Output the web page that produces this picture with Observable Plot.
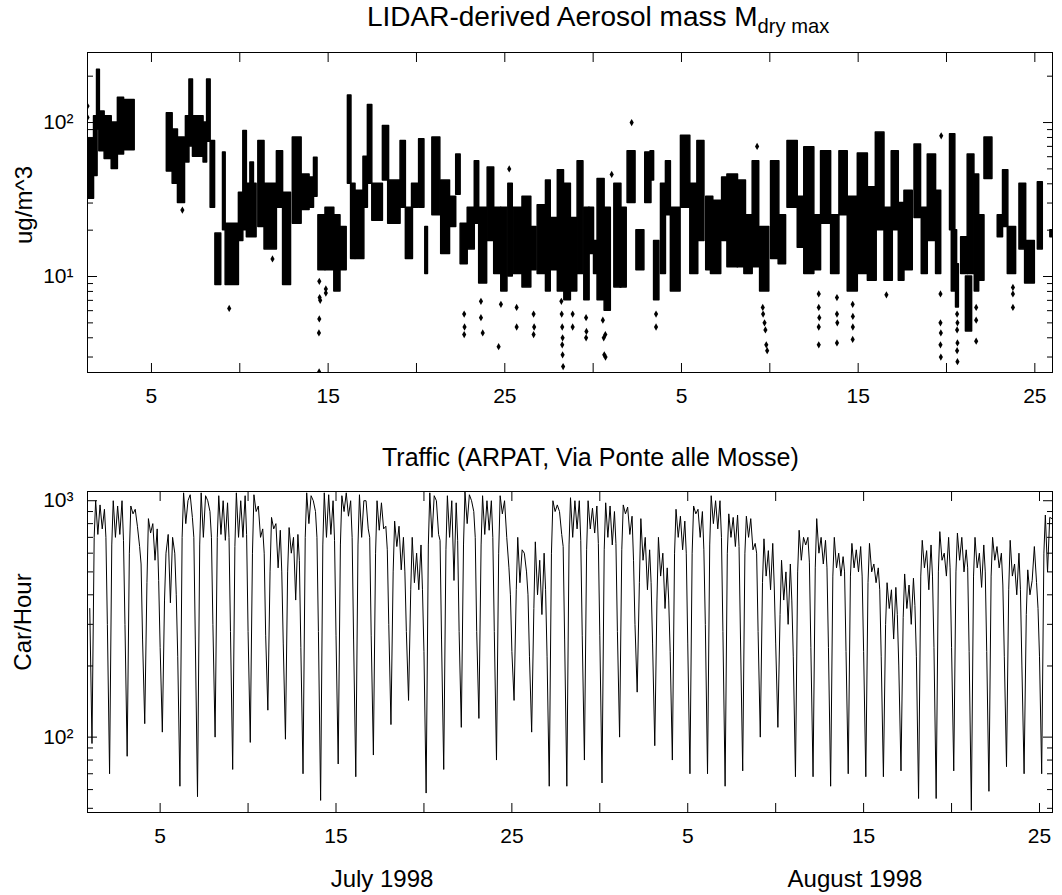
<!DOCTYPE html>
<html><head><meta charset="utf-8">
<script src="https://cdn.jsdelivr.net/npm/d3@7"></script>
<script src="https://cdn.jsdelivr.net/npm/@observablehq/plot@0.6"></script>
<style>
body{margin:0;background:#fff;font-family:"Liberation Sans",Arial,sans-serif;}
#wrap{position:relative;width:1062px;height:895px;overflow:hidden;background:#fff;}
#wrap svg{position:absolute;left:0;}
.t{position:absolute;white-space:nowrap;color:#000;line-height:1;}
.c{transform:translate(-50%,-50%);}
.r{transform:translate(-50%,-50%) rotate(-90deg);}
</style></head><body><div id="wrap"></div>
<script>
// ---------- Top panel: LIDAR-derived aerosol mass (ug/m^3), day of July (32 = Aug 1) ----------
// dense streaks of measurements: [dayStart, dayEnd, low, high]
const aerosolStreaks = [
[1.38,1.75,32,78],[1.75,1.95,45,110],[1.92,2.08,90,220],[2.05,2.35,65,118],[2.35,2.75,58,110],
[2.75,3.1,50,100],[3.1,3.45,62,145],[3.45,4.05,66,140],
[5.87,6.2,48,115],[6.2,6.5,40,90],[6.5,6.9,30,80],[6.95,7.15,55,110],[7.15,7.35,70,190],
[7.35,7.95,60,110],[7.95,8.15,55,100],[8.15,8.35,75,190],[8.35,8.6,28,76],[8.62,8.95,8.8,19],
[9.05,9.2,20,64],[9.2,9.95,8.8,22],[9.95,10.2,17,35],[10.2,10.4,20,88],[10.4,10.95,18,40],
[10.6,10.8,40,55],[11.05,11.4,21,76],[11.4,12.1,15,40],[12.1,12.45,28,65],[12.45,12.9,8.8,35],
[13.0,13.5,22,80],[13.5,13.95,27,46],[13.9,14.2,28,44],[14.2,14.4,33,59],[14.45,14.85,11,25],
[14.85,15.35,11,28],[15.35,15.7,8,25],[15.7,16.05,11,21],[16.12,16.32,40,150],[16.3,16.55,13,40],
[16.55,17.05,13,36],[17.0,17.25,28,60],[17.25,17.5,40,130],[17.5,18.1,23,40],[18.1,18.45,42,95],
[18.4,19.1,22,42],[19.1,19.4,28,76],[19.4,19.8,13,28],[19.75,20.1,28,40],[20.15,20.45,28,78],
[20.5,20.65,10.4,21],[20.9,21.35,25,80],[21.4,21.9,14,42],[21.9,22.25,21,33],[22.25,22.5,34,62],
[22.5,22.9,12,22],[22.9,23.3,15,28],[23.3,23.55,22,56],[23.55,24.0,9,28],[24.03,24.4,17,51],
[24.4,24.8,10.4,28],[24.8,25.15,8,28],[25.2,25.45,10,40],[25.5,26.0,10.4,28],[26.0,26.5,8.5,33],
[26.5,26.8,11,21],[26.86,27.33,10.4,29],[27.33,27.6,8,42],[27.6,28.0,11,24],[28.0,28.35,8,49],
[28.37,28.74,7,40],[28.74,29.1,8,24],[29.12,29.45,10.4,56],[29.5,29.8,7,28],[29.78,30.05,14,28],
[30.05,30.3,10.4,17],[30.25,30.65,7,43],[30.65,31.0,6,28],[31.2,31.6,8.5,40],[31.55,31.9,8.5,28],
[31.95,32.4,30,65],[32.45,32.9,11,20],[32.95,33.3,30,64],[33.25,33.45,42,65],[33.45,33.75,7,17],
[33.84,34.12,10.4,40],[34.12,34.4,25,56],[34.4,34.95,8,28],[34.97,35.5,28,82],[35.5,35.95,10.4,40],
[35.9,36.3,17,76],[36.4,36.8,11,33],[36.67,37.25,10.4,31],[37.3,37.6,17,44],[37.6,38.2,11.5,46],
[38.18,38.65,11.5,42],[38.56,39.03,10.4,25],[39.03,39.4,11.5,56],[39.45,39.97,8,21],[40.07,40.54,13,56],
[40.5,40.92,12,25],[41.0,41.58,28,76],[41.58,42.05,15.4,33],[41.95,42.52,10.4,69],[42.52,42.9,11,25],
[42.9,43.47,22,65],[43.47,43.94,10.4,25],[43.94,44.41,25,65],[44.41,44.98,8,33],[44.98,45.55,10.4,63],
[45.55,46.05,9.4,38],[46.0,46.49,20,86],[46.49,46.96,9.4,28],[46.9,47.3,20,65],[47.3,47.62,9.4,30],
[47.62,48.09,11,36],[48.19,48.56,24,72],[48.6,48.94,10.4,28],[48.94,49.41,17,62],[49.41,49.7,10.4,36],
[50.2,50.5,20,84],[50.3,50.6,8,20],[50.54,50.7,6.3,12],[50.83,51.21,10.4,18],[51.1,51.45,4.4,10],
[51.2,51.58,10.4,62],[51.6,51.85,8,46],[51.87,52.15,9.4,25],[52.15,52.6,43,80],[52.9,53.2,18,25],
[53.2,53.5,21,49],[53.47,53.94,10.4,21],[54.13,54.51,15,40],[54.45,55.0,9,17],[55.17,55.45,15,41],
[55.88,56.1,18,20]
];
// isolated measurements: [day, value]
const aerosolPoints = [
[1.38,128],[1.38,108],[6.75,27],[9.4,6.2],[11.85,13],
[14.5,9.3],[14.52,7.3],[14.55,7.0],[14.5,5.3],[14.48,4.3],[14.87,8.3],[14.87,7.8],[14.49,2.4],
[22.7,5.7],[22.72,4.7],[22.7,4.2],[23.65,6.9],[23.65,5.4],[23.75,4.3],[24.65,3.5],[24.78,6.6],
[25.25,50],[25.67,6.3],[25.67,4.7],[26.63,5.7],[26.66,4.7],[26.63,4.2],
[28.2,6.9],[28.22,5.7],[28.25,4.7],[28.27,4.0],[28.25,3.6],[28.27,3.1],[28.3,2.6],
[28.84,5.7],[28.84,4.7],[29.6,5.4],[29.62,4.4],[29.6,4.0],[30.55,5.2],[30.6,4.0],[30.63,3.1],
[30.69,4.2],[30.7,3.0],[31.05,46],[32.18,100],[33.56,5.7],[33.56,4.7],[39.28,70],
[39.6,6.3],[39.62,5.7],[39.7,5.0],[39.75,4.5],[39.8,3.6],[39.85,3.3],
[42.77,7.7],[42.77,6.3],[42.8,5.4],[42.77,4.7],[42.77,3.6],[43.8,7.3],[43.8,5.7],[43.82,5.0],[43.8,3.7],
[44.69,6.6],[44.7,5.5],[44.7,4.7],[44.69,3.9],[46.6,7.6],
[49.66,7.7],[49.66,5.0],[49.68,4.3],[49.66,3.6],[49.68,3.0],[49.7,82],
[50.6,5.7],[50.62,5.0],[50.6,4.5],[50.62,3.7],[50.6,3.3],[50.62,2.8],
[51.68,6.3],[51.68,5.2],[51.68,3.8],[53.76,8.5],[53.76,7.7],[53.76,6.3]
];

// ---------- Bottom panel: traffic (cars/hour) ----------
const trafficHours = [0,3,6,8,11,14,17,20,22];
const trafficDays = d3.range(1, 56);
const trafficValues = [
[350,94,700,1000,720,960,760,920,700],
[300,70,650,1000,700,950,720,1000,680],
[300,83,600,950,880,920,780,640,540],
[260,114,450,840,730,800,560,760,460],
[240,105,380,600,720,370,700,600,400],
[220,62,700,1080,800,1000,1060,850,700],
[260,56,650,1080,700,1050,1000,900,700],
[300,100,700,1050,720,1000,680,980,700],
[280,73,640,1080,700,1000,700,1050,720],
[280,95,600,1060,900,950,700,760,600],
[270,130,500,850,760,800,520,750,500],
[250,98,500,770,600,700,380,720,560],
[240,70,700,1080,800,1050,1000,900,700],
[280,54,650,1080,700,1060,720,1000,680],
[270,77,650,1050,900,1080,860,1000,700],
[260,68,650,1060,700,1000,1000,760,700],
[270,84,600,1000,750,980,760,780,620],
[300,113,500,820,640,780,510,700,500],
[280,143,420,700,450,600,420,650,420],
[230,58,650,1080,700,1050,1000,720,680],
[260,73,620,1050,700,1000,460,980,680],
[280,110,650,1090,800,1060,1000,900,700],
[280,120,650,1050,720,1000,750,1000,700],
[280,80,600,1050,880,1000,700,520,400],
[230,143,420,700,450,620,600,500,400],
[220,105,350,670,400,560,330,600,420],
[220,62,600,1000,900,960,900,720,640],
[260,62,650,1030,700,1000,760,1000,680],
[270,80,620,1000,760,930,730,950,660],
[270,64,620,980,700,950,650,900,660],
[280,100,620,960,880,940,720,860,560],
[300,155,450,840,560,700,420,620,450],
[250,92,380,700,480,600,350,520,380],
[230,80,600,920,700,860,620,820,600],
[250,70,600,950,880,920,700,900,620],
[300,70,650,1050,800,1000,760,1000,700],
[280,62,600,880,700,850,640,870,640],
[260,72,600,860,700,840,620,660,600],
[280,100,450,690,480,615,420,660,440],
[250,110,330,560,380,500,300,540,380],
[220,68,500,750,560,700,650,700,550],
[240,68,520,840,600,700,540,680,520],
[240,62,480,700,520,600,480,580,500],
[230,70,480,660,520,620,500,640,480],
[230,68,450,660,500,540,450,520,420],
[220,68,300,450,350,420,260,430,330],
[200,72,320,490,350,440,300,470,360],
[220,55,480,680,520,615,420,650,480],
[240,55,500,740,560,600,480,700,520],
[240,72,500,730,560,700,500,620,520],
[230,49,480,700,520,600,430,650,500],
[230,59,480,700,560,640,520,600,440],
[220,75,420,680,480,540,400,600,420],
[200,70,330,510,400,460,640,450,350],
[220,70,600,870,500,850,840]
];

// ---------- Axes ticks ----------
const xTickDays = [5,10,15,20,25,30,35,40,45,50,55];
const xTickText = {5:"5",15:"15",25:"25",35:"5",45:"15",55:"25"};
const topMajorY = [10,100];
const topMinorY = [3,4,5,6,7,8,9,20,30,40,50,60,70,80,90,200];
const topYText = {10:"10\u00B9",100:"10\u00B2"};
const botMajorY = [100,1000];
const botMinorY = [50,60,70,80,90,200,300,400,500,600,700,800,900];
const botYText = {100:"10\u00B2",1000:"10\u00B3"};

const traffic = [];
trafficValues.forEach((vals, i) => vals.forEach((v, j) => traffic.push({t: trafficDays[i] + trafficHours[j] / 24, v})));

const blank = () => "";
const plotStyle = {fontFamily: "'Liberation Sans', Arial, sans-serif", fontSize: "21px", color: "#000", background: "transparent", overflow: "visible"};
function axes(majorY, minorY, yText) {
  return [
    Plot.axisX({anchor: "bottom", ticks: xTickDays, tickSize: -9, tickPadding: 25, tickFormat: d => xTickText[d] ?? "", label: null}),
    Plot.axisX({anchor: "top", ticks: xTickDays, tickSize: -9, tickFormat: blank, label: null}),
    Plot.axisY({anchor: "left", ticks: majorY, tickSize: -10, tickPadding: 24, tickFormat: d => yText[d], label: null}),
    Plot.axisY({anchor: "left", ticks: minorY, tickSize: -6, tickFormat: blank, label: null}),
    Plot.axisY({anchor: "right", ticks: majorY, tickSize: -10, tickFormat: blank, label: null}),
    Plot.axisY({anchor: "right", ticks: minorY, tickSize: -6, tickFormat: blank, label: null}),
    Plot.frame({stroke: "#000", strokeWidth: 1})
  ];
}

const topChart = Plot.plot({
  width: 1062, height: 440, marginLeft: 87, marginRight: 10, marginTop: 52, marginBottom: 68,
  style: plotStyle,
  x: {type: "linear", domain: [1.38, 56.0]},
  y: {type: "log", domain: [2.38, 285]},
  marks: [
    Plot.rect(aerosolStreaks, {x1: d => d[0], x2: d => d[1], y1: d => d[2], y2: d => d[3], fill: "#000", stroke: "#000", strokeWidth: 1.5, strokeLinejoin: "round", clip: true}),
    Plot.dot(aerosolPoints, {x: d => d[0], y: d => d[1], r: 2.2, fill: "#000", symbol: "diamond", clip: true}),
    ...axes(topMajorY, topMinorY, topYText)
  ]
});
const bottomChart = Plot.plot({
  width: 1062, height: 455, marginLeft: 87, marginRight: 10, marginTop: 51, marginBottom: 83,
  style: plotStyle,
  x: {type: "linear", domain: [0.87, 55.74]},
  y: {type: "log", domain: [48, 1094]},
  marks: [
    Plot.line(traffic, {x: "t", y: "v", stroke: "#000", strokeWidth: 1, clip: true}),
    ...axes(botMajorY, botMinorY, botYText)
  ]
});

const wrap = document.getElementById("wrap");
topChart.style.top = "0px";
bottomChart.style.top = "440px";
wrap.appendChild(topChart);
wrap.appendChild(bottomChart);

function addText(html, css, cls) {
  const d = document.createElement("div");
  d.className = "t " + (cls || "");
  d.innerHTML = html;
  Object.assign(d.style, css);
  wrap.appendChild(d);
}
addText('LIDAR-derived Aerosol mass M<sub style="font-size:0.72em;vertical-align:-0.35em">dry max</sub>', {left: "367px", top: "3px", fontSize: "28px"});
addText('Traffic (ARPAT, Via Ponte alle Mosse)', {left: "382px", top: "445px", fontSize: "25px"});
addText('ug/m^3', {left: "24px", top: "205px", fontSize: "24px"}, "r");
addText('Car/Hour', {left: "23px", top: "622px", fontSize: "24px"}, "r");
addText('July 1998', {left: "382px", top: "879px", fontSize: "24px"}, "c");
addText('August 1998', {left: "855px", top: "879px", fontSize: "24px"}, "c");
</script></body></html>
